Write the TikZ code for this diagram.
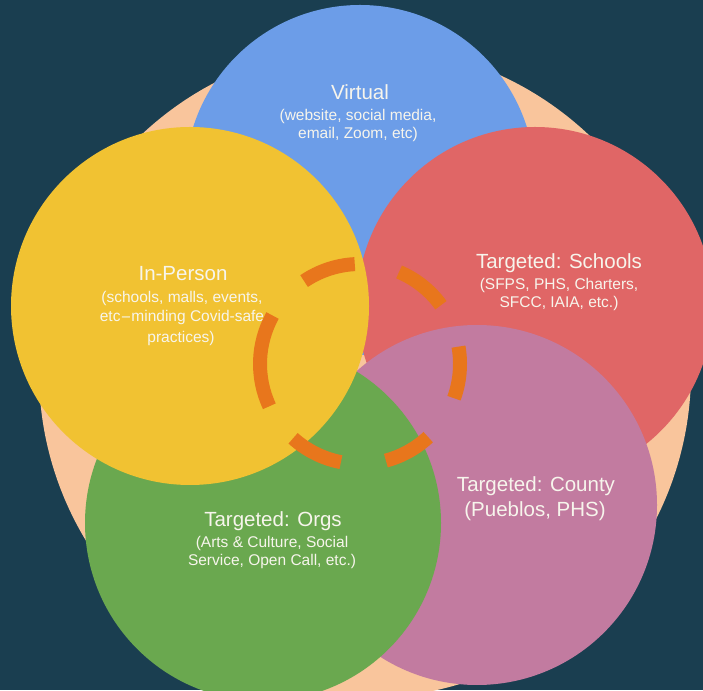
\documentclass[tikz,border=0pt]{standalone}
\usepackage{fontspec}
\setmainfont{Liberation Sans}
\definecolor{bgc}{HTML}{1A3E50}
\definecolor{peachc}{HTML}{F9C59C}
\definecolor{bluec}{HTML}{6C9DE8}
\definecolor{redc}{HTML}{E06666}
\definecolor{pinkc}{HTML}{C27BA0}
\definecolor{greenc}{HTML}{6AA84F}
\definecolor{yellowc}{HTML}{F1C232}
\definecolor{orangec}{HTML}{E8761C}
\definecolor{txtc}{HTML}{F7F5EC}
\tikzset{
  ttl/.style={text=txtc, anchor=base, inner sep=0pt, font=\fontsize{20.5}{24}\selectfont},
  sub/.style={text=txtc, anchor=base, inner sep=0pt, font=\fontsize{15.5}{18}\selectfont},
  dashc/.style={draw=orangec, line width=14pt, line cap=butt}
}
\begin{document}
\begin{tikzpicture}[x=1pt,y=1pt]
\useasboundingbox (0,0) rectangle (703,690);
\fill[bgc] (0,0) rectangle (703,690);
\coordinate (pc) at (365,318);
\coordinate (bc) at (360,510);
\coordinate (rc) at (535,385);
\coordinate (kc) at (477,185);
\coordinate (gc) at (263,167);
\coordinate (yc) at (190,384);
\coordinate (dc) at (360,326);
\begin{scope}
\clip (0,0) rectangle (703,690);
\fill[peachc] (pc) circle[radius=326];
\fill[bluec] (bc) circle[radius=175];
\fill[redc] (rc) circle[radius=178];
\fill[pinkc] (kc) circle[radius=180];
\fill[greenc] (gc) circle[radius=178];
\fill[yellowc] (yc) circle[radius=179];
\end{scope}
% texts
\node[ttl] (v1) at (360,590) {Virtual};
\node[sub] (v2) at (358,569) {(website, social media,};
\node[sub] (v3) at (358,551) {email, Zoom, etc)};
\node[ttl] (s1) at (559,421) {Targeted: Schools};
\node[sub] (s2) at (559,400) {(SFPS, PHS, Charters,};
\node[sub] (s3) at (559,382) {SFCC, IAIA, etc.)};
\node[ttl] (i1) at (183,409) {In-Person};
\node[sub] (i2) at (182,387) {(schools, malls, events,};
\node[sub] (i3) at (182,368) {etc{\fontspec{DejaVu Sans}\fontsize{13}{15}\selectfont\raisebox{0.5pt}{−}}minding Covid-safe};
\node[sub] (i4) at (181,347) {practices)};
\node[ttl] (o1) at (273,163) {Targeted: Orgs};
\node[sub] (o2) at (272,142) {(Arts \& Culture, Social};
\node[sub] (o3) at (272,124) {Service, Open Call, etc.)};
\node[ttl] (c1) at (536,198) {Targeted: County};
\node[ttl] (c2) at (535,173) {(Pueblos, PHS)};
% dashed ring
\draw[dashc] ([shift={(93:100)}]dc) arc[start angle=93, end angle=124, radius=100];
\draw[dashc] ([shift={(36:100)}]dc) arc[start angle=36, end angle=67, radius=100];
\draw[dashc] ([shift={(-20:100)}]dc) arc[start angle=-20, end angle=10, radius=100];
\draw[dashc] ([shift={(-75:100)}]dc) arc[start angle=-75, end angle=-47, radius=100];
\draw[dashc] ([shift={(228:100)}]dc) arc[start angle=228, end angle=259, radius=100];
\draw[dashc] ([shift={(151:100)}]dc) arc[start angle=151, end angle=205, radius=100];
\end{tikzpicture}
\end{document}
